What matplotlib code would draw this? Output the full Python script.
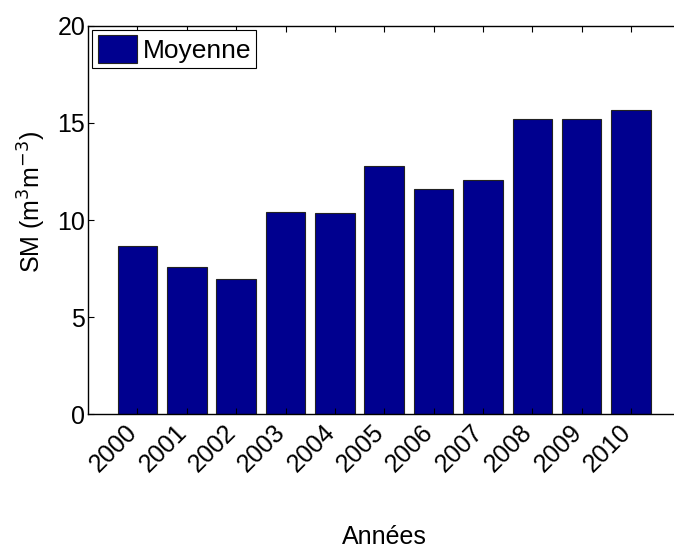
import numpy as np
import matplotlib.pyplot as plt
import matplotlib.transforms as mtransforms

# Yearly mean soil moisture
years = ['2000', '2001', '2002', '2003', '2004', '2005',
         '2006', '2007', '2008', '2009', '2010']
moyenne = [8.68, 7.58, 6.98, 10.41, 10.36, 12.78, 11.59, 12.06, 15.2, 15.18, 15.65]
yticks = [0, 5, 10, 15, 20]

plt.rcParams['font.family'] = ['Liberation Sans', 'DejaVu Sans']
fs = 18

fig = plt.figure(figsize=(6.74, 5.49), dpi=100)
ax = fig.add_axes([0.1306, 0.2453, 0.879, 0.7078])

x = np.arange(1, len(years) + 1)
ax.bar(x, moyenne, width=0.8, color='#00008F', edgecolor='#222222',
       linewidth=0.8, label='Moyenne')

ax.set_xlim(0, 12)
ax.set_ylim(0, 20)
ax.set_yticks(yticks)
ax.set_xticks(x)
ax.set_xticklabels(years, rotation=45, ha='right', va='center',
                   rotation_mode='anchor')
ax.tick_params(direction='in', top=True, right=True, labelsize=fs,
               length=4.3, width=0.8)
ax.tick_params(axis='y', pad=2)
ax.tick_params(axis='x', pad=10)

# shift rotated year labels slightly left, like the original
offset = mtransforms.ScaledTranslation(-4 / 100, 0, fig.dpi_scale_trans)
for lab in ax.get_xticklabels():
    lab.set_transform(lab.get_transform() + offset)

ax.set_ylabel('SM (m$^3$m$^{-3}$)', fontsize=fs)
ax.yaxis.set_label_coords(-0.067, 0.546)
ax.set_xlabel('Années', fontsize=fs)
ax.xaxis.set_label_coords(0.5, -0.285)

for s in ax.spines.values():
    s.set_linewidth(1.0)

leg = ax.legend(loc='upper left', fontsize=19, fancybox=False,
                edgecolor='black', framealpha=1, borderpad=0.2,
                handlelength=1.5, handleheight=1.25, handletextpad=0.2,
                borderaxespad=0.16)
leg.get_frame().set_linewidth(0.8)

fig.savefig('out.png', dpi=100)
